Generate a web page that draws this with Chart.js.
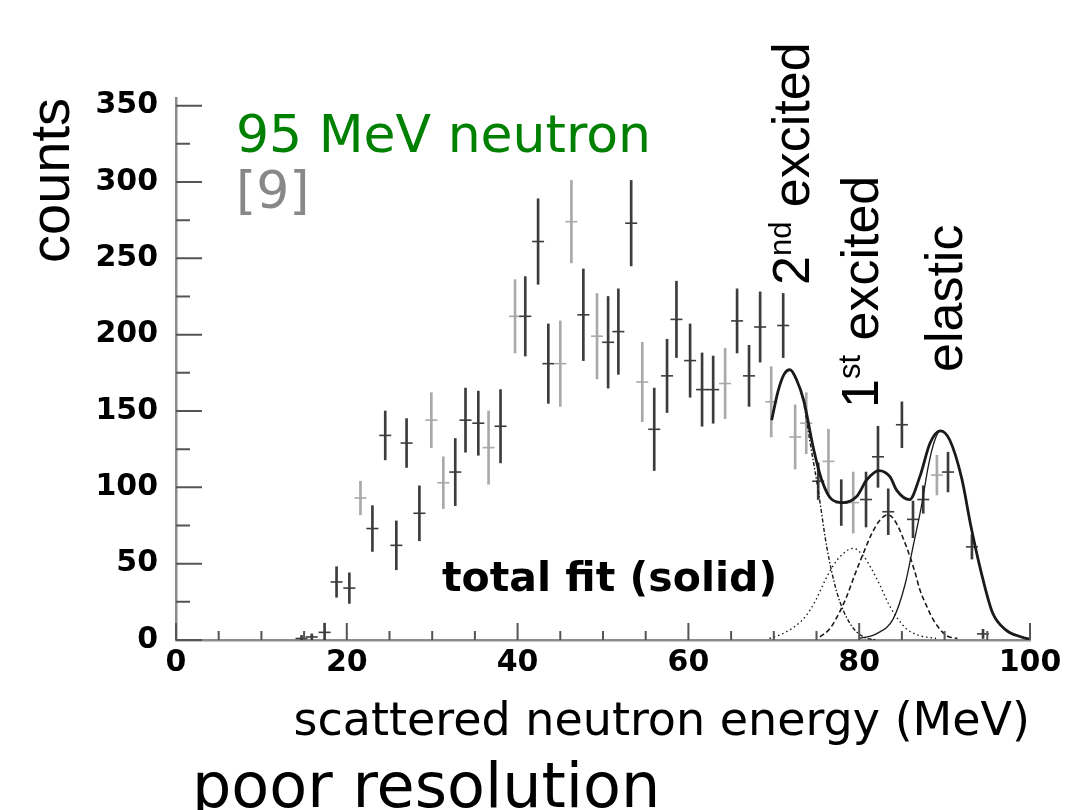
<!DOCTYPE html>
<html>
<head>
<meta charset="utf-8">
<script src="https://cdn.jsdelivr.net/npm/chart.js@4.4.1/dist/chart.umd.min.js"></script>
<style>
  body { margin: 0; background: #fff; }
  #wrap { position: relative; width: 1082px; height: 810px; overflow: hidden; background: #fff; }
  .note { position: absolute; white-space: nowrap; line-height: 1; font-family: "DejaVu Sans", Verdana, sans-serif; }
  .vert { position: absolute; white-space: nowrap; line-height: 1; transform: rotate(-90deg); transform-origin: 0 0;
          font-family: "Liberation Sans", Arial, sans-serif; font-size: 52px; color: #000; }
  .vert sup { font-size: 31px; line-height: 0; vertical-align: 18px; }
</style>
</head>
<body>
<div id="wrap">
  <canvas id="spectrum" width="1082" height="810"></canvas>
  <div class="note" style="left:236px; top:108px; font-size:52px; color:#008000;">95 MeV neutron</div>
  <div class="note" style="left:236px; top:164px; font-size:52px; color:#888;">[9]</div>
  <div class="note" style="left:442px; top:557px; font-size:41px; font-weight:bold; color:#000;">total fit (solid)</div>
  <div class="note" style="left:192px; top:755px; font-size:62px; color:#000;">poor resolution</div>
  <div class="vert" style="left:765px; top:285px;">2<sup>nd</sup> excited</div>
  <div class="vert" style="left:834px; top:408px;">1<sup>st</sup> excited</div>
  <div class="vert" style="left:918px; top:372px;">elastic</div>
</div>
<script>
// measured spectrum: bin energy (MeV), counts, error, and whether the point is the lighter set
const energy = [14.7, 15.9, 17.4, 18.8, 20.3, 21.6, 23.0, 24.5, 25.8, 27.0,
                28.5, 29.9, 31.3, 32.7, 33.9, 35.4, 36.6, 38.0, 39.7, 40.9,
                42.4, 43.6, 45.0, 46.3, 47.7, 49.3, 50.6, 51.8, 53.3, 54.6,
                56.0, 57.5, 58.6, 60.2, 61.6, 62.9, 64.3, 65.7, 67.1, 68.4,
                69.7, 71.1, 72.5, 73.8, 75.2, 76.4, 77.9, 79.3, 80.8, 82.2,
                83.4, 85.0, 86.3, 87.5, 89.1, 90.4, 93.2, 94.5];
const counts = [1, 2, 5, 38, 34, 93, 73, 134, 62, 129,
                83, 144, 103, 110, 144, 142, 126, 140, 212, 212,
                261, 181, 181, 274, 213, 199, 195, 202, 273, 169,
                138, 173, 210, 183, 164, 164, 168, 209, 173, 205,
                156, 206, 133, 142, 104, 117, 90, 90, 92, 120,
                84, 141, 79, 92, 108, 110, 61, 4];
const errors = [2, 2, 6, 10, 10, 11, 15, 16, 16, 16,
                18, 18, 17, 22, 21, 21, 24, 24, 24, 26,
                28, 26, 28, 27, 30, 28, 30, 28, 28, 26,
                27, 24, 25, 24, 24, 22, 23, 21, 20, 23,
                23, 21, 21, 20, 12, 21, 15, 20, 18, 20,
                15, 15, 12, 9, 13, 13, 8, 3];
const lightSet = [0, 0, 0, 0, 0, 1, 0, 0, 0, 0,
                  0, 1, 1, 0, 0, 0, 1, 0, 1, 0,
                  0, 0, 1, 1, 0, 1, 0, 0, 0, 1,
                  0, 0, 0, 0, 0, 0, 1, 0, 0, 0,
                  1, 0, 1, 1, 0, 1, 0, 1, 0, 0,
                  0, 0, 0, 0, 1, 0, 0, 0];

// fit curves
const totalE = [69.75, 70.5, 71.2, 71.9, 72.7, 73.5, 74.7, 75.6, 76.8, 78.1, 79.7, 80.9, 82.3, 83.6,
                84.4, 85.9, 87.1, 88.3, 89.5, 90.6, 92.0, 93.1, 94.3, 95.6, 97.2, 99.0, 100];
const totalC = [144, 163, 174, 177, 170, 157, 124, 105, 92, 90, 94, 105, 111, 107,
                98, 92, 107, 129, 137, 131, 106, 74, 44, 18, 6.5, 2, 0.5];
const elasticE = [80, 82, 84, 85.4, 86.3, 87.3, 88.1, 88.8, 89.5, 90.6, 92.0, 93.1, 94.3, 95.6, 97.2, 99.0, 100];
const elasticC = [1, 4, 14, 37, 61, 88, 114, 130, 137, 131, 106, 74, 44, 18, 6.5, 2, 0.5];
const firstAE = [75.4, 76.5, 77.4, 78.5, 79.5, 80.5, 81.5, 82.5, 83.4, 84.3, 85.6, 86.5, 87.1, 88.0, 88.7, 90.2, 91.5];
const firstAC = [2, 7, 15, 28, 43, 57, 70, 79, 82, 77, 60, 45, 33, 21, 13, 3, 1];
const firstBE = [69.5, 71, 72.5, 73.8, 75, 76, 77, 78, 79.3, 80.5, 81.5, 82.5, 83.5, 84.5, 85.6, 87, 89];
const firstBC = [1, 4, 9, 16, 27, 39, 49, 56, 60, 55, 46, 35, 23, 14, 7, 3, 1];
const secondE = [69.75, 70.5, 71.2, 71.9, 72.7, 73.5, 74.2, 75.2, 76.2, 77.4, 78.9, 80.5, 82];
const secondC = [144, 163, 174, 177, 170, 155, 131, 98, 61, 31, 11, 2, 0];

const xLabels = [0, 20, 40, 60, 80, 100];
const yLabels = [0, 50, 100, 150, 200, 250, 300, 350];

const pts = (xs, ys) => xs.map((x, i) => ({ x: x, y: ys[i] }));
const shade = lightSet.map(l => l ? '#a9a9a9' : '#3c3c3c');

// small ticks pointing into the plot, as on the original frame
const inwardTicks = {
  id: 'inwardTicks',
  afterDatasetsDraw(chart) {
    const { ctx, chartArea: a, scales: { x, y } } = chart;
    ctx.save();
    ctx.strokeStyle = '#555';
    ctx.lineWidth = 2;
    ctx.beginPath();
    for (let v = 0; v <= 100; v += 5) {
      const px = x.getPixelForValue(v);
      const len = v % 20 === 0 ? 17 : 9;
      ctx.moveTo(px, a.bottom);
      ctx.lineTo(px, a.bottom - len);
    }
    for (let v = 0; v <= 350; v += 25) {
      const py = y.getPixelForValue(v);
      const len = v % 50 === 0 ? 26 : 14;
      ctx.moveTo(a.left, py);
      ctx.lineTo(a.left + len, py);
    }
    ctx.stroke();
    ctx.restore();
  }
};

const curve = (label, xs, ys, width, dash, order) => ({
  type: 'line', label: label, data: pts(xs, ys),
  borderColor: '#1a1a1a', borderWidth: width, borderDash: dash,
  pointRadius: 0, cubicInterpolationMode: 'monotone', fill: false, order: order
});

new Chart(document.getElementById('spectrum'), {
  type: 'scatter',
  data: {
    datasets: [
      curve('total fit', totalE, totalC, 2.8, [], 0),
      curve('elastic', elasticE, elasticC, 1.3, [], 1),
      curve('1st excited a', firstAE, firstAC, 1.6, [5, 3], 1),
      curve('1st excited b', firstBE, firstBC, 1.4, [1.5, 3], 1),
      curve('2nd excited', secondE, secondC, 1.4, [4, 2, 1.5, 2], 1),
      {
        type: 'bar', label: 'errors',
        data: energy.map((e, i) => ({ x: e, y: [counts[i] - errors[i], counts[i] + errors[i]] })),
        backgroundColor: shade, borderWidth: 0, barThickness: 2, order: 5
      },
      {
        type: 'scatter', label: 'counts',
        data: pts(energy, counts),
        pointStyle: 'line', pointRadius: 6, pointBorderWidth: 1.6,
        pointBorderColor: shade, order: 4
      }
    ]
  },
  options: {
    responsive: false,
    animation: false,
    layout: { padding: { top: 98, right: 52, left: 0, bottom: 0 } },
    plugins: { legend: { display: false }, tooltip: { enabled: false } },
    scales: {
      x: {
        type: 'linear', min: 0, max: 100, offset: false,
        grid: { display: false, drawTicks: false, offset: false },
        border: { color: '#8c8c8c', width: 2.5 },
        afterBuildTicks: s => { s.ticks = xLabels.map(v => ({ value: v })); },
        afterFit: s => { s.height = 170; },
        ticks: { padding: 5, color: '#000', autoSkip: false, maxRotation: 0,
                 font: { family: 'DejaVu Sans', weight: 'bold', size: 30 } },
        title: { display: true, text: 'scattered neutron energy (MeV)', align: 'end', color: '#000',
                 font: { family: 'DejaVu Sans', size: 46 }, padding: { top: 0, bottom: 59 } }
      },
      y: {
        type: 'linear', min: 0, max: 355,
        grid: { display: false, drawTicks: false },
        border: { color: '#8c8c8c', width: 2.5 },
        afterBuildTicks: s => { s.ticks = yLabels.map(v => ({ value: v })); },
        afterFit: s => { s.width = 176; },
        ticks: { padding: 18, color: '#000', autoSkip: false,
                 font: { family: 'DejaVu Sans', weight: 'bold', size: 30 } },
        title: { display: true, text: 'counts', align: 'end', color: '#000',
                 font: { family: 'Liberation Sans', size: 56 }, padding: { top: 20, bottom: 0 } }
      }
    }
  },
  plugins: [inwardTicks]
});
</script>
</body>
</html>
